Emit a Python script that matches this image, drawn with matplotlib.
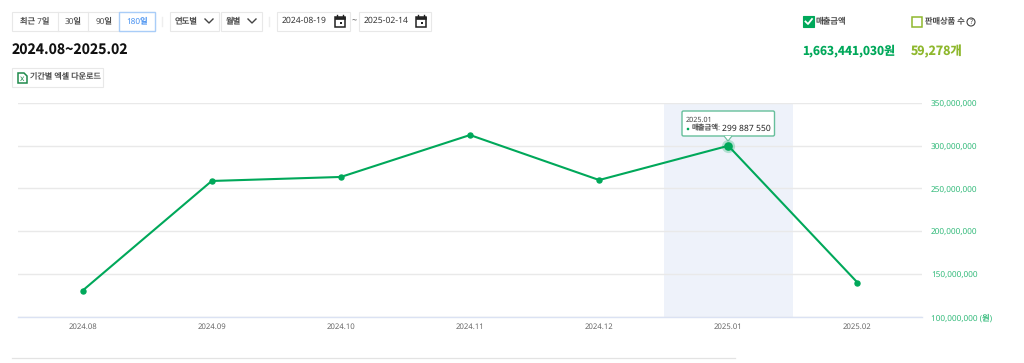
import matplotlib
matplotlib.use('Agg')
import matplotlib.pyplot as plt
from matplotlib.patches import Rectangle, FancyBboxPatch, Circle, Polygon
from matplotlib.ticker import FuncFormatter
from matplotlib.transforms import ScaledTranslation

plt.rcParams['font.family'] = ['Noto Sans', 'Noto Sans CJK KR', 'DejaVu Sans']
plt.rcParams['text.hinting'] = 'no_hinting'
plt.rcParams['text.hinting_factor'] = 1

# ========================== DATA ==========================
MONTHS = ['2024.08', '2024.09', '2024.10', '2024.11', '2024.12', '2025.01', '2025.02']
SALES = [130300000, 258700000, 263400000, 312500000, 259800000, 299887550, 139800000]
Y_TICKS = [100000000, 150000000, 200000000, 250000000, 300000000, 350000000]
PERIOD_BUTTONS = ['최근 7일', '30일', '90일', '180일']
SELECTS = ['연도별', '월별']
DATES = ['2024-08-19', '2025-02-14']

# ========================== STYLE ==========================
W, H = 1024, 363
GREEN = '#00a85a'
TICK_GREEN = '#2fb978'
OLIVE = '#8fb82e'
TEXT = '#4a4a4a'
BORDER = '#e8e8e8'
BLUE = '#3f8cf0'
BAND = '#eef2fa'
HEAVY = ['Noto Sans CJK KR', 'DejaVu Sans']
HOVER = 5

fig = plt.figure(figsize=(W / 100, H / 100), dpi=100)

# page layer in pixel coordinates, for the controls round the chart
ui = fig.add_axes([0, 0, 1, 1])
ui.set_xlim(0, W)
ui.set_ylim(H, 0)
ui.axis('off')


def box(x0, y0, x1, y1, edge=BORDER, face='white', lw=0.8, z=2):
    ui.add_patch(Rectangle((x0, y0), x1 - x0, y1 - y0, fc=face, ec=edge, lw=lw, zorder=z))


def label(x, y, s, size=6.0, color=TEXT, ha='center', **kw):
    ui.text(x, y, s, fontsize=size, color=color, ha=ha, va='center', zorder=5, **kw)


def chevron(x, y):
    ui.plot([x - 4, x, x + 4], [y - 2, y + 2, y - 2], color='#444444', lw=1.0, zorder=5)


def calendar(x, y):
    ui.add_patch(Rectangle((x - 5, y - 4), 10, 9.5, fc='white', ec='#222222', lw=1.1, zorder=5))
    ui.add_patch(Rectangle((x - 5, y - 4.5), 10, 2.5, fc='#222222', ec='#222222', lw=0.5, zorder=5))
    ui.add_patch(Rectangle((x - 0.5, y + 0.5), 2.5, 2.5, fc='#222222', ec='none', zorder=6))
    ui.plot([x - 3, x - 3], [y - 6, y - 4], color='#222222', lw=1.0, zorder=5)
    ui.plot([x + 3, x + 3], [y - 6, y - 4], color='#222222', lw=1.0, zorder=5)


# period buttons
box(12, 12, 155, 31)
for x in [58, 88]:
    ui.plot([x, x], [12, 31], color=BORDER, lw=0.8, zorder=3)
box(119, 12, 155, 31, edge='#a9cdf8', lw=1.0, z=3)
for cx, name, col in zip([35, 73, 104, 137], PERIOD_BUTTONS, [TEXT, TEXT, TEXT, BLUE]):
    label(cx, 21, name, size=5.9, color=col)

# selects and date inputs
for x in [162, 269]:
    ui.plot([x, x], [17, 26], color='#eeeeee', lw=1.0, zorder=3)
box(170, 12, 219, 31)
box(221, 12, 262, 31)
label(186.5, 21, SELECTS[0], size=6.0)
label(233.5, 21, SELECTS[1], size=6.0)
chevron(209, 21)
chevron(252, 21)
box(277, 12, 350, 31)
box(359, 12, 431, 31)
label(304.5, 21, DATES[0], size=6.2, color='#333333')
label(386, 21, DATES[1], size=6.2, color='#333333')
label(354, 21, '~', size=6.5)
calendar(340, 21)
calendar(421, 21)

# period title and excel button
label(12, 51, '2024.08~2025.02', size=10.1, color='#111111', ha='left', family=HEAVY, weight='bold')
box(12, 68, 103, 87)
ui.add_patch(Polygon([(18, 73), (24, 73), (27, 76), (27, 83), (18, 83)], closed=True,
                     fc='white', ec='#1f8a4c', lw=1.1, zorder=5))
label(22.4, 78.5, 'x', size=6, color='#1f8a4c', weight='bold')
label(65, 77, '기간별 엑셀 다운로드', size=5.8)

# series toggles and totals
box(803, 16, 814, 27, edge=GREEN, face=GREEN, z=3)
ui.plot([805.5, 808, 812], [21.5, 24, 19], color='white', lw=1.3, zorder=5)
label(816, 21, '매출금액', size=6.0, ha='left')
box(912, 16.5, 922, 27, edge=OLIVE, lw=1.1, z=3)
label(925, 21, '판매상품 수', size=5.9, ha='left')
ui.add_patch(Circle((971, 22), 4, fc='white', ec='#444444', lw=0.8, zorder=5))
label(971, 22, '?', size=5)
label(802, 51, '1,663,441,030원', size=8.6, color=GREEN, ha='left', family=HEAVY, weight='bold')
label(911, 51, '59,278개', size=8.9, color=OLIVE, ha='left', family=HEAVY, weight='bold')

# rule under the chart
ui.plot([12, 735], [357.5, 357.5], color='#e3e3e3', lw=0.9)

# chart
ax = fig.add_axes([18 / W, 1 - 316.5 / H, (922 - 18) / W, (316.5 - 103) / H])
ax.patch.set_alpha(0)
x_pos = range(len(MONTHS))
ax.axvspan(HOVER - 0.5, HOVER + 0.5, color=BAND, lw=0, zorder=0)
ax.plot(x_pos, SALES, color=GREEN, lw=1.5, marker='o', ms=3.6, zorder=3, clip_on=False)
ax.plot(HOVER, SALES[HOVER], 'o', ms=9.5, color=GREEN, alpha=0.25, mew=0, zorder=3, clip_on=False)
ax.plot(HOVER, SALES[HOVER], 'o', ms=5.2, color=GREEN, zorder=4, clip_on=False)

ax.set_xlim(-0.5, len(MONTHS) - 0.5)
ax.set_ylim(Y_TICKS[0], Y_TICKS[-1])
ax.set_xticks(list(x_pos), MONTHS)
ax.set_yticks(Y_TICKS)
ax.yaxis.tick_right()
ax.yaxis.set_major_formatter(FuncFormatter(
    lambda v, p: format(int(v), ',') + (' (원)' if v == Y_TICKS[0] else '')))
ax.tick_params(axis='x', length=0, pad=5, labelsize=5.6, labelcolor='#666666')
ax.tick_params(axis='y', length=0, pad=6.5, labelsize=5.9, labelcolor=TICK_GREEN)
# nudge the value labels down to sit on their gridlines
nudge = ScaledTranslation(0, -1.2 / 100, fig.dpi_scale_trans)
for tick in ax.yaxis.get_major_ticks():
    tick.label2.set_transform(tick.label2.get_transform() + nudge)
ax.grid(axis='y', color='#e9e9e9', lw=1.0, zorder=1)
ax.set_axisbelow(True)
for side in ['top', 'left', 'right']:
    ax.spines[side].set_visible(False)
ax.spines['bottom'].set_color('#dbe2f3')
ax.spines['bottom'].set_linewidth(1.0)

# tooltip on the hovered month
ui.add_patch(FancyBboxPatch((682, 111), 92.5, 25, boxstyle='round,pad=0,rounding_size=1.5',
                            fc='white', ec='#66bf9b', lw=1.0, zorder=8))
ui.add_patch(Polygon([(724, 136), (728, 141), (732, 136)], closed=False, fc='white', ec='#66bf9b',
                     lw=0.8, zorder=9))
for artist_x, artist_y, s, size, col in [
    (686, 120, MONTHS[HOVER], 5.2, '#444444'),
    (692, 129, '매출금액:', 5.3, '#555555'),
    (722, 129, format(SALES[HOVER], ',').replace(',', ' '), 6.2, '#222222'),
]:
    ui.text(artist_x, artist_y, s, fontsize=size, color=col, va='center', zorder=9)
ui.add_patch(Circle((688, 129), 1.3, fc=GREEN, ec='none', zorder=9))
ui.set_zorder(ax.get_zorder() + 1)
ui.patch.set_alpha(0)

fig.savefig('out.png', dpi=100, facecolor='white')
